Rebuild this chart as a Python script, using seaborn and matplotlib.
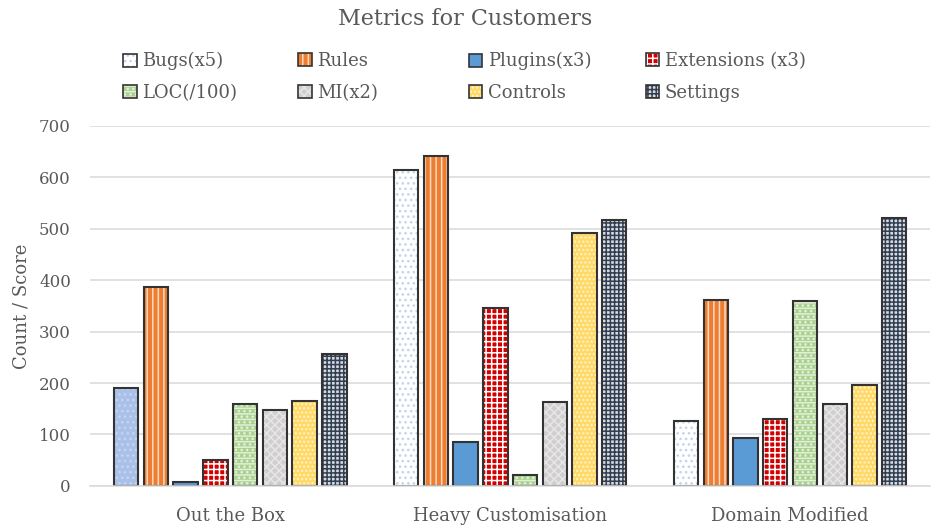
import matplotlib
matplotlib.use("Agg")
import matplotlib.pyplot as plt
from matplotlib.patches import Rectangle, Patch
import seaborn as sns
import pandas as pd

groups = ["Out the Box", "Heavy Customisation", "Domain Modified"]
metrics = ["Bugs(x5)", "Rules", "Plugins(x3)", "Extensions (x3)",
           "LOC(/100)", "MI(x2)", "Controls", "Settings"]
bugs = [190, 615, 126]
rules = [386, 641, 362]
plugins = [8, 85, 93]
extensions = [50, 345, 131]
loc = [159, 22, 359]
mi = [148, 163, 159]
controls = [166, 492, 197]
settings = [256, 517, 521]
series = [bugs, rules, plugins, extensions, loc, mi, controls, settings]

# face colour, hatch, hatch colour for each metric
styles = {
    "Bugs(x5)": ("#FFFFFF", "...", "#C5D5EE"),
    "Rules": ("#ED7D31", "|||", "#FBD9C2"),
    "Plugins(x3)": ("#5B9BD5", "", "#5B9BD5"),
    "Extensions (x3)": ("#D40000", "+++", "#FFFFFF"),
    "LOC(/100)": ("#A9D18E", "---...", "#E2F0D9"),
    "MI(x2)": ("#D0CECE", "xxxx", "#E7E6E6"),
    "Controls": ("#FFD966", "....", "#FFF2CC"),
    "Settings": ("#D6DCE5", "++++", "#333F50"),
}
# the first group's bug bar is shaded blue
special_face = {("Bugs(x5)", 0): "#A9C1E8"}

rows = []
for m, vals in zip(metrics, series):
    for g, v in zip(groups, vals):
        rows.append({"group": g, "metric": m, "value": v})
df = pd.DataFrame(rows)

sns.set_theme(style="white")
plt.rcParams["font.family"] = ["DejaVu Serif"]
plt.rcParams["hatch.linewidth"] = 1.1

fig = plt.figure(figsize=(9.31, 5.27), dpi=100)
ax = fig.add_axes([0.097, 0.078, 0.902, 0.683])

palette = {m: styles[m][0] for m in metrics}
sns.barplot(data=df, x="group", y="value", hue="metric", order=groups,
            hue_order=metrics, palette=palette, width=0.85, gap=0.18,
            saturation=1, ax=ax, legend=False)

outline = "#333333"
for m, cont in zip(metrics, ax.containers):
    face, hatch, hcol = styles[m]
    for gi, bar in enumerate(cont):
        bar.set_facecolor(special_face.get((m, gi), face))
        bar.set_hatch(hatch)
        bar.set_edgecolor(hcol)
        bar.set_linewidth(0)
        ax.add_patch(Rectangle(bar.get_xy(), bar.get_width(), bar.get_height(),
                               fill=False, edgecolor=outline, linewidth=1.5,
                               zorder=bar.get_zorder() + 0.1))

ax.set_ylim(0, 700)
ax.set_yticks(range(0, 701, 100))
ax.yaxis.grid(True, color="#D9D9D9", linewidth=1.1)
ax.set_axisbelow(True)
for s in ["top", "right", "left"]:
    ax.spines[s].set_visible(False)
ax.spines["bottom"].set_color("#D9D9D9")
ax.spines["bottom"].set_linewidth(1.1)
ax.tick_params(axis="both", length=0, colors="#595959")
ax.tick_params(axis="x", labelsize=13, pad=15)
ax.tick_params(axis="y", labelsize=12, pad=14)
ax.set_xlabel("")
ax.set_ylabel("Count / Score", fontsize=13, color="#595959", labelpad=6)

# legend: four equal-width columns, two entries each
def legend_handle(m):
    face, hatch, hcol = styles[m]
    h1 = Patch(facecolor=face, hatch=hatch, edgecolor=hcol, linewidth=0)
    h2 = Patch(facecolor="none", edgecolor=outline, linewidth=1.2)
    return (h1, h2)

col_x = [0.1325, 0.3205, 0.5035, 0.6935]
for c, x0 in enumerate(col_x):
    col_metrics = [metrics[c], metrics[c + 4]]
    fig.legend([legend_handle(m) for m in col_metrics], col_metrics,
               loc="upper left", bbox_to_anchor=(x0, 0.901), ncol=1,
               frameon=False, fontsize=13, handlelength=0.75,
               handleheight=0.75, handletextpad=0.3, labelspacing=0.75,
               borderpad=0, borderaxespad=0, labelcolor="#595959")

fig.suptitle("Metrics for Customers", fontsize=16, color="#595959", y=0.985)

fig.savefig("out.png", dpi=100, facecolor="white")
